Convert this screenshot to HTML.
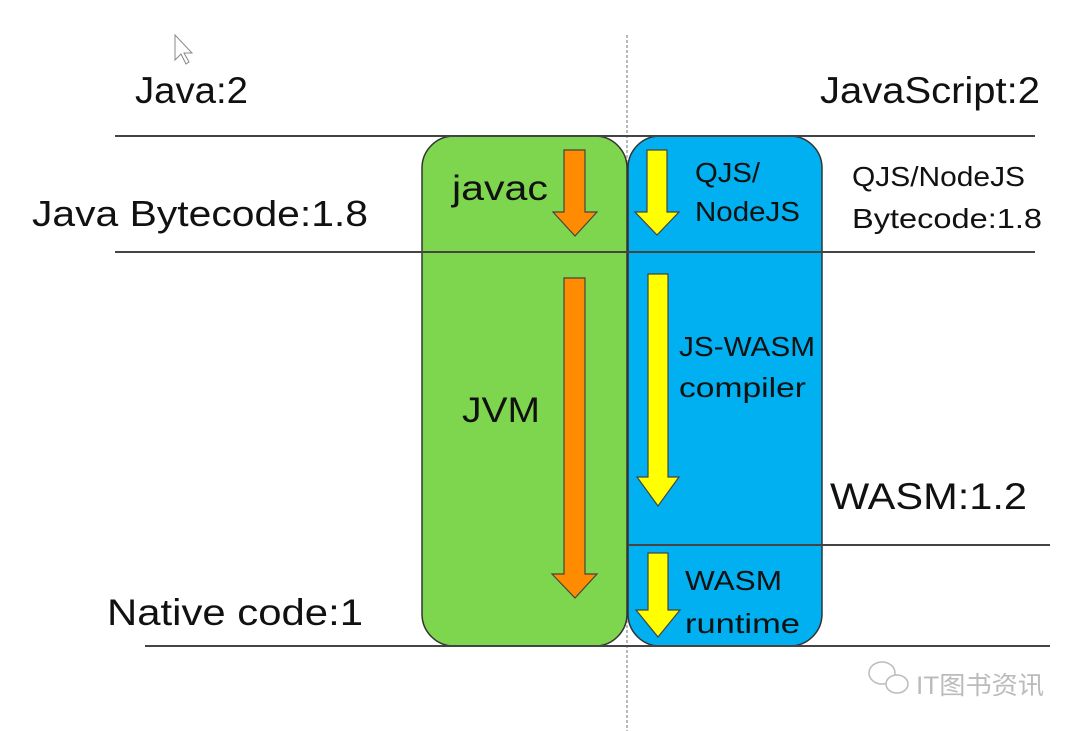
<!DOCTYPE html>
<html><head><meta charset="utf-8"><style>
html,body{margin:0;padding:0;background:#fff;}
body{width:1080px;height:731px;overflow:hidden;position:relative;font-family:"Liberation Sans","Noto Sans CJK SC",sans-serif;}
svg{position:absolute;left:0;top:0;}
</style></head><body>
<svg width="1080" height="731" viewBox="0 0 1080 731" xmlns="http://www.w3.org/2000/svg">
<line x1="627" y1="35" x2="627" y2="731" stroke="#888" stroke-width="1.2" stroke-dasharray="3,2"/>
<rect x="422" y="136" width="205" height="510" rx="32" fill="#7dd64e" stroke="#333" stroke-width="1.5"/>
<rect x="628" y="136" width="194" height="510" rx="32" fill="#00b0f0" stroke="#333" stroke-width="1.5"/>
<g stroke="#444" stroke-width="2">
<line x1="115" y1="136" x2="1035" y2="136"/>
<line x1="115" y1="252" x2="1035" y2="252"/>
<line x1="628" y1="545" x2="1050" y2="545"/>
<line x1="145" y1="646" x2="1050" y2="646"/>
</g>
<g stroke="#444" stroke-width="1.2">
<polygon fill="#ff8c00" points="564,150 585,150 585,212 597,212 575,236 553,212 564,212"/>
<polygon fill="#ff8c00" points="564,278 585,278 585,574 597,574 575,598 552,574 564,574"/>
<polygon fill="#ffff00" points="647,150 667,150 667,212 679,212 657,235 635,212 647,212"/>
<polygon fill="#ffff00" points="648,274 668,274 668,477 679,477 658,506 637,477 648,477"/>
<polygon fill="#ffff00" points="648,553 668,553 668,610 680,610 658,637 636,610 648,610"/>
</g>
<g font-family="Liberation Sans, sans-serif" fill="#111" lengthAdjust="spacingAndGlyphs">
<text x="135" y="103" font-size="37" textLength="113" lengthAdjust="spacingAndGlyphs">Java:2</text>
<text x="820" y="103" font-size="37" textLength="220" lengthAdjust="spacingAndGlyphs">JavaScript:2</text>
<text x="32" y="226" font-size="36" textLength="336" lengthAdjust="spacingAndGlyphs">Java Bytecode:1.8</text>
<text x="852" y="186" font-size="28" textLength="173" lengthAdjust="spacingAndGlyphs">QJS/NodeJS</text>
<text x="852" y="228" font-size="28" textLength="190" lengthAdjust="spacingAndGlyphs">Bytecode:1.8</text>
<text x="830" y="509" font-size="37" textLength="197" lengthAdjust="spacingAndGlyphs">WASM:1.2</text>
<text x="107" y="625" font-size="37" textLength="256" lengthAdjust="spacingAndGlyphs">Native code:1</text>
<text x="452" y="200" font-size="35" textLength="96" lengthAdjust="spacingAndGlyphs">javac</text>
<text x="462" y="422" font-size="35" textLength="78" lengthAdjust="spacingAndGlyphs">JVM</text>
<text x="695" y="182" font-size="28" textLength="65" lengthAdjust="spacingAndGlyphs">QJS/</text>
<text x="695" y="221" font-size="28" textLength="105" lengthAdjust="spacingAndGlyphs">NodeJS</text>
<text x="679" y="356" font-size="28" textLength="136" lengthAdjust="spacingAndGlyphs">JS-WASM</text>
<text x="679" y="397" font-size="28" textLength="127" lengthAdjust="spacingAndGlyphs">compiler</text>
<text x="685" y="590" font-size="28" textLength="97" lengthAdjust="spacingAndGlyphs">WASM</text>
<text x="685" y="633" font-size="28" textLength="115" lengthAdjust="spacingAndGlyphs">runtime</text>
</g>
<g fill="none" stroke="#bbb" stroke-width="1.5">
<ellipse cx="882" cy="673" rx="13" ry="11"/>
<ellipse cx="897" cy="684" rx="11" ry="9" fill="#fff"/>
</g>
<text x="916" y="694" font-size="25" fill="#bbb" font-family="Liberation Sans, Noto Sans CJK SC, sans-serif" textLength="128" lengthAdjust="spacingAndGlyphs">IT图书资讯</text>
<polygon points="175,35 175,60 181,54 186,64 189,62 184,53 192,53" fill="#fff" stroke="#888" stroke-width="1"/>
</svg>
</body></html>
